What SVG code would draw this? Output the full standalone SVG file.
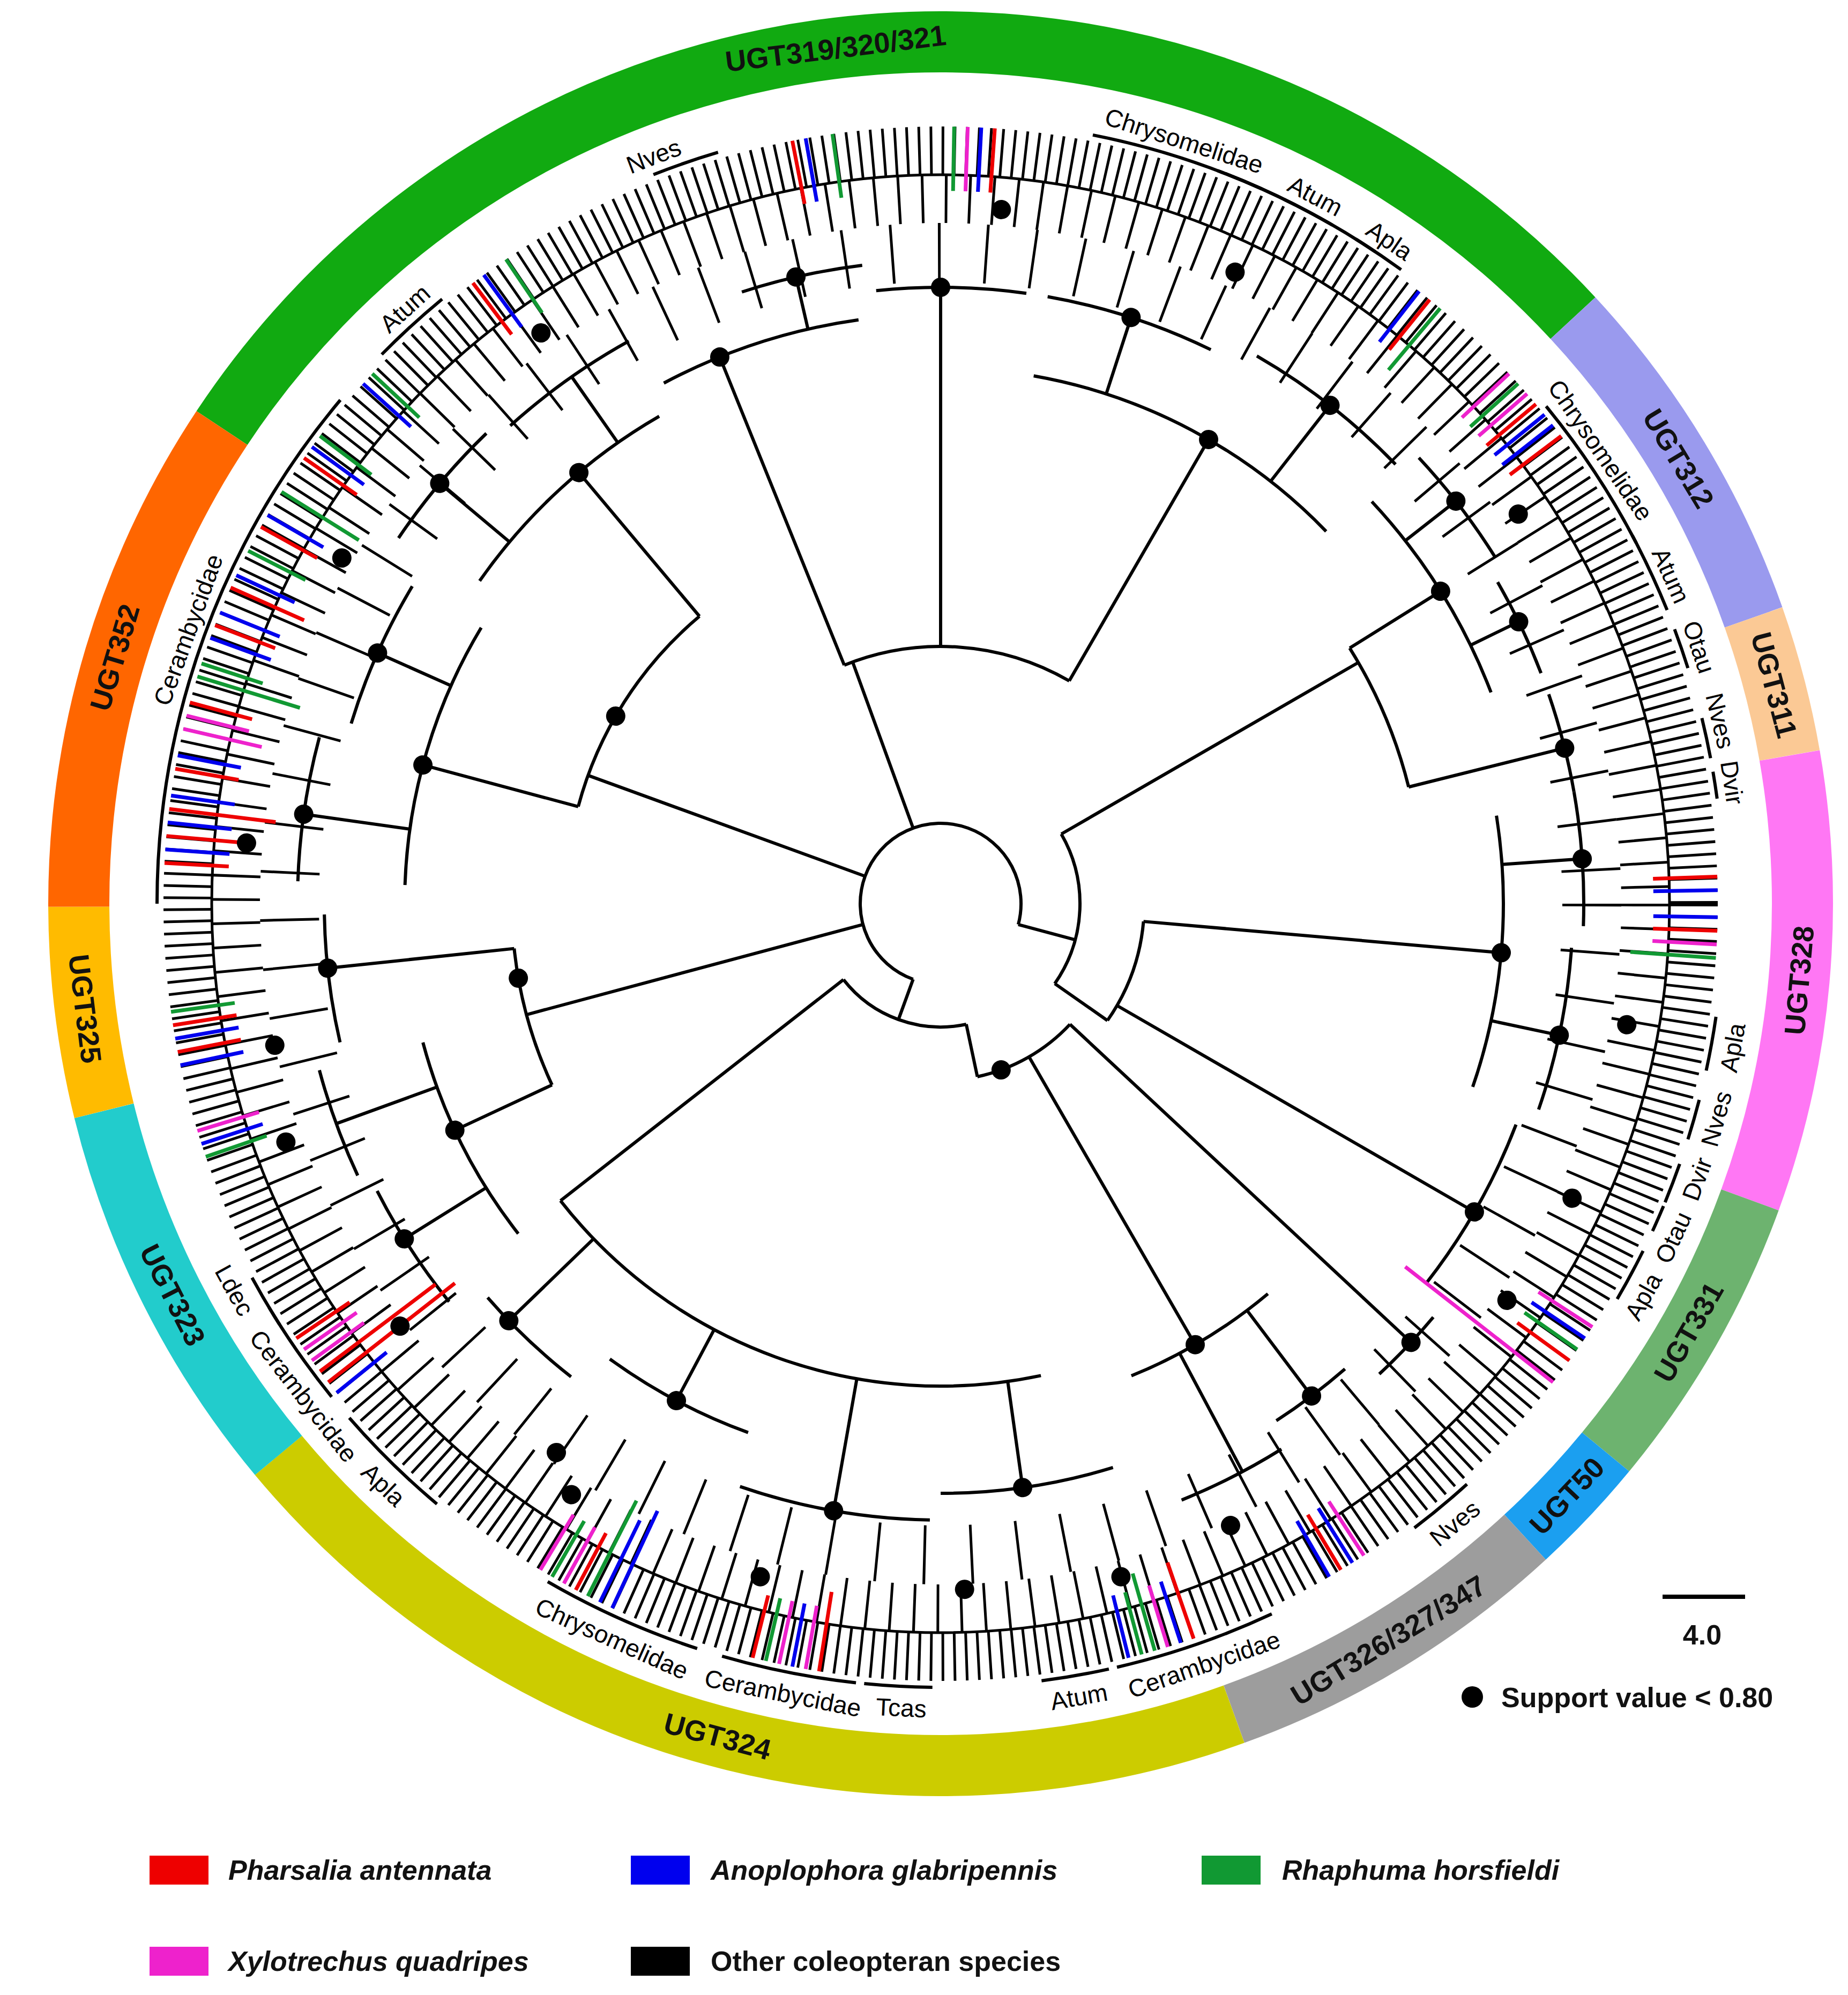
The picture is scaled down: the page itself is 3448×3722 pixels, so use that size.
<svg xmlns="http://www.w3.org/2000/svg" width="3448" height="3722" viewBox="0 0 3448 3722">
<style>
.b{fill:none;stroke:#000;stroke-width:6}
.rg{fill:none;stroke-width:114}
.lf{fill:none;stroke-width:7}
.R{stroke:#ee0000}.B{stroke:#0000ee}.G{stroke:#119933}.M{stroke:#ee22cc}
.lab{font-family:"Liberation Sans",Arial,sans-serif;font-size:46px;text-anchor:middle;fill:#000}
.rl{font-family:"Liberation Sans",Arial,sans-serif;font-size:54px;font-weight:bold;text-anchor:middle;fill:#111}
.lg{font-family:"Liberation Sans",Arial,sans-serif;font-size:52px;font-weight:bold;font-style:italic;fill:#111}
.lgn{font-family:"Liberation Sans",Arial,sans-serif;font-size:52px;font-weight:bold;fill:#111}
</style>
<rect width="3448" height="3722" fill="#fff"/>
<g id="ring" transform="translate(1755,1686)">
<circle class="rg" r="1608" pathLength="360" stroke="#11aa11" stroke-dasharray="103.7 400" transform="rotate(213.5)"/>
<circle class="rg" r="1608" pathLength="360" stroke="#9a9aee" stroke-dasharray="23.4 400" transform="rotate(-42.8)"/>
<circle class="rg" r="1608" pathLength="360" stroke="#fbc995" stroke-dasharray="9.5 400" transform="rotate(-19.4)"/>
<circle class="rg" r="1608" pathLength="360" stroke="#ff77f4" stroke-dasharray="30 400" transform="rotate(-9.9)"/>
<circle class="rg" r="1608" pathLength="360" stroke="#6db36f" stroke-dasharray="19.4 400" transform="rotate(20.1)"/>
<circle class="rg" r="1608" pathLength="360" stroke="#1b9ff0" stroke-dasharray="7.8 400" transform="rotate(39.5)"/>
<circle class="rg" r="1608" pathLength="360" stroke="#9d9d9d" stroke-dasharray="22.8 400" transform="rotate(47.3)"/>
<circle class="rg" r="1608" pathLength="360" stroke="#cccc00" stroke-dasharray="70.1 400" transform="rotate(70.1)"/>
<circle class="rg" r="1608" pathLength="360" stroke="#22cccc" stroke-dasharray="25.9 400" transform="rotate(140.2)"/>
<circle class="rg" r="1608" pathLength="360" stroke="#ffbb00" stroke-dasharray="13.7 400" transform="rotate(166.1)"/>
<circle class="rg" r="1608" pathLength="360" stroke="#ff6600" stroke-dasharray="33.7 400" transform="rotate(179.8)"/>
<text class="rl" transform="rotate(353)" y="-1589">UGT319/320/321</text>
<text class="rl" transform="rotate(58.9)" y="-1589">UGT312</text>
<text class="rl" transform="rotate(75.3)" y="-1589">UGT311</text>
<text class="rl" transform="rotate(-84.9)" y="1627">UGT328</text>
<text class="rl" transform="rotate(-60.2)" y="1627">UGT331</text>
<text class="rl" transform="rotate(-46.6)" y="1627">UGT50</text>
<text class="rl" transform="rotate(-31.3)" y="1627">UGT326/327/347</text>
<text class="rl" transform="rotate(15)" y="1627">UGT324</text>
<text class="rl" transform="rotate(63)" y="1627">UGT323</text>
<text class="rl" transform="rotate(83)" y="1627">UGT325</text>
<text class="rl" transform="rotate(286.6)" y="-1589">UGT352</text>
</g>
<g id="connectors" class="b" transform="translate(1755,1686)">
<circle r="1405" stroke-width="90" stroke-dasharray="5 17"/>
<circle r="1315" stroke-width="90" stroke-dasharray="5 39"/>
<circle r="1215" stroke-width="110" stroke-dasharray="5 83"/>
<circle r="1360" stroke-width="5"/>
<circle r="150" pathLength="360" stroke-dasharray="265 400" transform="rotate(110)"/>
<path d="M0-150V-230" transform="rotate(200)"/>
<circle r="230" pathLength="360" stroke-dasharray="64 400" transform="rotate(78)"/>
<path d="M0-230V-900" transform="rotate(232)"/>
<circle r="900" pathLength="360" stroke-dasharray="64 400" transform="rotate(78)"/>
<path d="M0-900V-1100" transform="rotate(172)"/>
<path d="M0-900V-1150" transform="rotate(190)"/>
<path d="M0-900V-1050" transform="rotate(208)"/>
<path d="M0-900V-1120" transform="rotate(226)"/>
<circle r="1100" pathLength="360" stroke-dasharray="17 400" transform="rotate(73)"/>
<circle r="1150" pathLength="360" stroke-dasharray="18 400" transform="rotate(91)"/>
<circle r="1050" pathLength="360" stroke-dasharray="16 400" transform="rotate(110)"/>
<circle r="1120" pathLength="360" stroke-dasharray="11 400" transform="rotate(128)"/>
<path d="M0-230V-330" transform="rotate(168)"/>
<circle r="330" pathLength="360" stroke-dasharray="35 400" transform="rotate(43)"/>
<path d="M0-330V-1200" transform="rotate(133)"/>
<circle r="1200" pathLength="360" stroke-dasharray="7 400" transform="rotate(40)"/>
<path d="M0-330V-950" transform="rotate(150)"/>
<circle r="950" pathLength="360" stroke-dasharray="18 400" transform="rotate(50)"/>
<path d="M0-950V-1150" transform="rotate(143)"/>
<path d="M0-950V-1200" transform="rotate(152)"/>
<circle r="1150" pathLength="360" stroke-dasharray="8 400" transform="rotate(49)"/>
<circle r="1200" pathLength="360" stroke-dasharray="10 400" transform="rotate(58)"/>
<path d="M0-150V-800" transform="rotate(255)"/>
<circle r="800" pathLength="360" stroke-dasharray="19 400" transform="rotate(155)"/>
<path d="M0-800V-1000" transform="rotate(245)"/>
<circle r="1000" pathLength="360" stroke-dasharray="23 400" transform="rotate(142)"/>
<path d="M0-1000V-1180" transform="rotate(238)"/>
<path d="M0-1000V-1200" transform="rotate(250)"/>
<circle r="1180" pathLength="360" stroke-dasharray="12 400" transform="rotate(141)"/>
<circle r="1200" pathLength="360" stroke-dasharray="10 400" transform="rotate(155)"/>
<path d="M0-800V-1150" transform="rotate(264)"/>
<circle r="1150" pathLength="360" stroke-dasharray="12 400" transform="rotate(167)"/>
<path d="M0-150V-700" transform="rotate(290)"/>
<circle r="700" pathLength="360" stroke-dasharray="35 400" transform="rotate(195)"/>
<path d="M0-700V-1000" transform="rotate(285)"/>
<circle r="1000" pathLength="360" stroke-dasharray="29 400" transform="rotate(182)"/>
<path d="M0-1000V-1200" transform="rotate(278)"/>
<path d="M0-1000V-1150" transform="rotate(294)"/>
<circle r="1200" pathLength="360" stroke-dasharray="13 400" transform="rotate(182)"/>
<circle r="1150" pathLength="360" stroke-dasharray="14 400" transform="rotate(197)"/>
<path d="M0-700V-1050" transform="rotate(320)"/>
<circle r="1050" pathLength="360" stroke-dasharray="25 400" transform="rotate(215)"/>
<path d="M0-1050V-1220" transform="rotate(310)"/>
<path d="M0-1050V-1200" transform="rotate(325)"/>
<circle r="1220" pathLength="360" stroke-dasharray="12 400" transform="rotate(214)"/>
<circle r="1200" pathLength="360" stroke-dasharray="13 400" transform="rotate(228)"/>
<path d="M0-150V-480" transform="rotate(340)"/>
<circle r="480" pathLength="360" stroke-dasharray="52 400" transform="rotate(248)"/>
<path d="M0-480V-1100" transform="rotate(338)"/>
<circle r="1100" pathLength="360" stroke-dasharray="20 400" transform="rotate(242)"/>
<path d="M0-1100V-1200" transform="rotate(347)"/>
<circle r="1200" pathLength="360" stroke-dasharray="11 400" transform="rotate(252)"/>
<path d="M0-480V-1150" transform="rotate(0)"/>
<circle r="1150" pathLength="360" stroke-dasharray="14 400" transform="rotate(264)"/>
<path d="M0-480V-1000" transform="rotate(30)"/>
<circle r="1000" pathLength="360" stroke-dasharray="36 400" transform="rotate(280)"/>
<path d="M0-1000V-1150" transform="rotate(18)"/>
<path d="M0-1000V-1180" transform="rotate(38)"/>
<circle r="1150" pathLength="360" stroke-dasharray="16 400" transform="rotate(280)"/>
<circle r="1180" pathLength="360" stroke-dasharray="16 400" transform="rotate(300)"/>
<path d="M0-150V-260" transform="rotate(105)"/>
<circle r="260" pathLength="360" stroke-dasharray="65 400" transform="rotate(-30)"/>
<path d="M0-260V-380" transform="rotate(125)"/>
<circle r="380" pathLength="360" stroke-dasharray="30 400" transform="rotate(5)"/>
<path d="M0-380V-1050" transform="rotate(95)"/>
<circle r="1050" pathLength="360" stroke-dasharray="28 400" transform="rotate(-9)"/>
<path d="M0-1050V-1200" transform="rotate(86)"/>
<path d="M0-1050V-1180" transform="rotate(102)"/>
<circle r="1200" pathLength="360" stroke-dasharray="12 400" transform="rotate(-10)"/>
<circle r="1180" pathLength="360" stroke-dasharray="15 400" transform="rotate(4)"/>
<path d="M0-380V-1150" transform="rotate(120)"/>
<circle r="1150" pathLength="360" stroke-dasharray="17 400" transform="rotate(21)"/>
<path d="M0-260V-900" transform="rotate(60)"/>
<circle r="900" pathLength="360" stroke-dasharray="18 400" transform="rotate(-32)"/>
<path d="M0-900V-1100" transform="rotate(58)"/>
<circle r="1100" pathLength="360" stroke-dasharray="22 400" transform="rotate(-43)"/>
<path d="M0-1100V-1220" transform="rotate(52)"/>
<path d="M0-1100V-1200" transform="rotate(64)"/>
<circle r="1220" pathLength="360" stroke-dasharray="11 400" transform="rotate(-43)"/>
<circle r="1200" pathLength="360" stroke-dasharray="9 400" transform="rotate(-30)"/>
<path d="M0-900V-1200" transform="rotate(76)"/>
<circle r="1200" pathLength="360" stroke-dasharray="9 400" transform="rotate(-19)"/>
</g>
<g id="colored-leaves" class="lf" transform="translate(1755,1686)">
<path class="R" d="M0-1330V-1450" transform="rotate(273)"/><path class="B" d="M0-1330V-1450" transform="rotate(274)"/>
<path class="R" d="M0-1300V-1450" transform="rotate(275)"/><path class="B" d="M0-1330V-1450" transform="rotate(276)"/>
<path class="R" d="M0-1250V-1450" transform="rotate(277)"/><path class="B" d="M0-1330V-1450" transform="rotate(278)"/>
<path class="R" d="M0-1330V-1450" transform="rotate(280)"/><path class="B" d="M0-1330V-1450" transform="rotate(281)"/>
<path class="M" d="M0-1300V-1450" transform="rotate(283)"/><path class="M" d="M0-1330V-1450" transform="rotate(284)"/>
<path class="R" d="M0-1330V-1450" transform="rotate(285)"/><path class="G" d="M0-1250V-1450" transform="rotate(287)"/>
<path class="G" d="M0-1330V-1450" transform="rotate(288)"/><path class="B" d="M0-1330V-1450" transform="rotate(290)"/>
<path class="R" d="M0-1330V-1450" transform="rotate(291)"/><path class="B" d="M0-1330V-1450" transform="rotate(292)"/>
<path class="R" d="M0-1300V-1450" transform="rotate(294)"/><path class="B" d="M0-1330V-1450" transform="rotate(295)"/>
<path class="G" d="M0-1330V-1450" transform="rotate(297)"/><path class="R" d="M0-1330V-1450" transform="rotate(299)"/>
<path class="B" d="M0-1330V-1450" transform="rotate(300)"/><path class="G" d="M0-1280V-1450" transform="rotate(302)"/>
<path class="R" d="M0-1330V-1450" transform="rotate(305)"/><path class="B" d="M0-1330V-1450" transform="rotate(306)"/>
<path class="G" d="M0-1330V-1450" transform="rotate(307)"/><path class="B" d="M0-1330V-1450" transform="rotate(312)"/>
<path class="G" d="M0-1330V-1450" transform="rotate(313)"/><path class="R" d="M0-1330V-1450" transform="rotate(323)"/>
<path class="B" d="M0-1330V-1450" transform="rotate(324)"/><path class="G" d="M0-1330V-1450" transform="rotate(326)"/>
<path class="R" d="M0-1330V-1450" transform="rotate(349)"/><path class="B" d="M0-1330V-1450" transform="rotate(350)"/>
<path class="G" d="M0-1330V-1450" transform="rotate(352)"/><path class="G" d="M0-1330V-1450" transform="rotate(1)"/>
<path class="M" d="M0-1330V-1450" transform="rotate(2)"/><path class="B" d="M0-1330V-1450" transform="rotate(3)"/>
<path class="R" d="M0-1330V-1450" transform="rotate(4)"/><path class="B" d="M0-1330V-1450" transform="rotate(38)"/>
<path class="R" d="M0-1330V-1450" transform="rotate(39)"/><path class="G" d="M0-1300V-1450" transform="rotate(40)"/>
<path class="M" d="M0-1330V-1450" transform="rotate(47)"/><path class="G" d="M0-1330V-1450" transform="rotate(48)"/>
<path class="M" d="M0-1330V-1450" transform="rotate(49)"/><path class="R" d="M0-1330V-1450" transform="rotate(50)"/>
<path class="B" d="M0-1330V-1450" transform="rotate(51)"/><path class="B" d="M0-1330V-1450" transform="rotate(52)"/>
<path class="R" d="M0-1330V-1450" transform="rotate(53)"/><path class="R" d="M0-1330V-1450" transform="rotate(88)"/>
<path class="B" d="M0-1330V-1450" transform="rotate(89)"/><path class="B" d="M0-1330V-1450" transform="rotate(91)"/>
<path class="R" d="M0-1330V-1450" transform="rotate(92)"/><path class="M" d="M0-1330V-1450" transform="rotate(93)"/>
<path class="G" d="M0-1290V-1450" transform="rotate(94)"/><path class="M" d="M0-1330V-1450" transform="rotate(123)"/>
<path class="B" d="M0-1330V-1450" transform="rotate(124)"/><path class="G" d="M0-1330V-1450" transform="rotate(125)"/>
<path class="R" d="M0-1330V-1450" transform="rotate(126)"/><path class="M" d="M0-1100V-1450" transform="rotate(128)"/>
<path class="M" d="M0-1330V-1450" transform="rotate(147)"/><path class="B" d="M0-1330V-1450" transform="rotate(148)"/>
<path class="R" d="M0-1330V-1450" transform="rotate(149)"/><path class="B" d="M0-1330V-1450" transform="rotate(150)"/>
<path class="R" d="M0-1300V-1450" transform="rotate(161)"/><path class="B" d="M0-1330V-1450" transform="rotate(162)"/>
<path class="M" d="M0-1330V-1450" transform="rotate(163)"/><path class="G" d="M0-1300V-1450" transform="rotate(164)"/>
<path class="G" d="M0-1330V-1450" transform="rotate(165)"/><path class="B" d="M0-1330V-1450" transform="rotate(166)"/>
<path class="R" d="M0-1300V-1450" transform="rotate(189)"/><path class="M" d="M0-1330V-1450" transform="rotate(190)"/>
<path class="B" d="M0-1330V-1450" transform="rotate(191)"/><path class="M" d="M0-1330V-1450" transform="rotate(192)"/>
<path class="G" d="M0-1330V-1450" transform="rotate(193)"/><path class="R" d="M0-1330V-1450" transform="rotate(194)"/>
<path class="B" d="M0-1250V-1450" transform="rotate(205)"/><path class="B" d="M0-1280V-1450" transform="rotate(206)"/>
<path class="G" d="M0-1250V-1450" transform="rotate(207)"/><path class="R" d="M0-1330V-1450" transform="rotate(208)"/>
<path class="M" d="M0-1330V-1450" transform="rotate(209)"/><path class="G" d="M0-1330V-1450" transform="rotate(210)"/>
<path class="M" d="M0-1330V-1450" transform="rotate(211)"/><path class="B" d="M0-1330V-1450" transform="rotate(231)"/>
<path class="R" d="M0-1150V-1450" transform="rotate(232)"/><path class="R" d="M0-1180V-1450" transform="rotate(233)"/>
<path class="M" d="M0-1330V-1450" transform="rotate(234)"/><path class="M" d="M0-1330V-1450" transform="rotate(235)"/>
<path class="R" d="M0-1330V-1450" transform="rotate(236)"/><path class="G" d="M0-1330V-1450" transform="rotate(251)"/>
<path class="B" d="M0-1330V-1450" transform="rotate(252)"/><path class="M" d="M0-1330V-1450" transform="rotate(253)"/>
<path class="B" d="M0-1330V-1450" transform="rotate(258)"/><path class="R" d="M0-1330V-1450" transform="rotate(259)"/>
<path class="B" d="M0-1330V-1450" transform="rotate(260)"/><path class="R" d="M0-1330V-1450" transform="rotate(261)"/>
<path class="G" d="M0-1330V-1450" transform="rotate(262)"/>
</g>
<g id="support-dots" fill="#000" transform="translate(1755,1686)">
<circle r="18" cy="-1000" transform="rotate(285)"/><circle r="18" cy="-1200" transform="rotate(278)"/>
<circle r="18" cy="-1150" transform="rotate(294)"/><circle r="18" cy="-1290" transform="rotate(300)"/>
<circle r="18" cy="-1300" transform="rotate(275)"/><circle r="18" cy="-1150" transform="rotate(264)"/>
<circle r="18" cy="-1270" transform="rotate(258)"/><circle r="18" cy="-1000" transform="rotate(245)"/>
<circle r="18" cy="-1180" transform="rotate(238)"/><circle r="18" cy="-1300" transform="rotate(250)"/>
<circle r="18" cy="-1280" transform="rotate(232)"/><circle r="18" cy="-1120" transform="rotate(226)"/>
<circle r="18" cy="-1050" transform="rotate(208)"/><circle r="18" cy="-1250" transform="rotate(215)"/>
<circle r="18" cy="-1150" transform="rotate(190)"/><circle r="18" cy="-1300" transform="rotate(195)"/>
<circle r="18" cy="-1100" transform="rotate(172)"/><circle r="18" cy="-1280" transform="rotate(178)"/>
<circle r="18" cy="-1300" transform="rotate(165)"/><circle r="18" cy="-950" transform="rotate(150)"/>
<circle r="18" cy="-1150" transform="rotate(143)"/><circle r="18" cy="-1280" transform="rotate(155)"/>
<circle r="18" cy="-1200" transform="rotate(133)"/><circle r="18" cy="-1150" transform="rotate(120)"/>
<circle r="18" cy="-1290" transform="rotate(125)"/><circle r="18" cy="-1300" transform="rotate(115)"/>
<circle r="18" cy="-1180" transform="rotate(102)"/><circle r="18" cy="-1050" transform="rotate(95)"/>
<circle r="18" cy="-1200" transform="rotate(86)"/><circle r="18" cy="-1300" transform="rotate(100)"/>
<circle r="18" cy="-1200" transform="rotate(76)"/><circle r="18" cy="-1200" transform="rotate(64)"/>
<circle r="18" cy="-1100" transform="rotate(58)"/><circle r="18" cy="-1220" transform="rotate(52)"/>
<circle r="18" cy="-1300" transform="rotate(56)"/><circle r="18" cy="-1180" transform="rotate(38)"/>
<circle r="18" cy="-1000" transform="rotate(30)"/><circle r="18" cy="-1150" transform="rotate(18)"/>
<circle r="18" cy="-1300" transform="rotate(25)"/><circle r="18" cy="-1300" transform="rotate(5)"/>
<circle r="18" cy="-1150" transform="rotate(0)"/><circle r="18" cy="-1200" transform="rotate(347)"/>
<circle r="18" cy="-1100" transform="rotate(338)"/><circle r="18" cy="-1050" transform="rotate(320)"/>
<circle r="18" cy="-1220" transform="rotate(310)"/><circle r="18" cy="-1300" transform="rotate(325)"/>
<circle r="18" cy="-700" transform="rotate(300)"/><circle r="18" cy="-800" transform="rotate(260)"/>
<circle r="18" cy="-330" transform="rotate(160)"/><circle r="18" cy="-1300" transform="rotate(212)"/>
</g>
<g id="clade-labels" transform="translate(1755,1686)">
<g class="b">
<circle r="1462" pathLength="360" stroke-dasharray="5 400" transform="rotate(248.5)"/>
<circle r="1462" pathLength="360" stroke-dasharray="6 400" transform="rotate(224.5)"/>
<circle r="1462" pathLength="360" stroke-dasharray="40 400" transform="rotate(180)"/>
<circle r="1462" pathLength="360" stroke-dasharray="13 400" transform="rotate(290.7)"/>
<circle r="1462" pathLength="360" stroke-dasharray="6 400" transform="rotate(290.9)"/>
<circle r="1462" pathLength="360" stroke-dasharray="13 400" transform="rotate(-78.8)"/>
<circle r="1462" pathLength="360" stroke-dasharray="4 400" transform="rotate(-64)"/>
<circle r="1462" pathLength="360" stroke-dasharray="4 400" transform="rotate(-58)"/>
<circle r="1462" pathLength="360" stroke-dasharray="12 400" transform="rotate(-39.4)"/>
<circle r="1462" pathLength="360" stroke-dasharray="6 400" transform="rotate(-28)"/>
<circle r="1462" pathLength="360" stroke-dasharray="3 400" transform="rotate(-20.5)"/>
<circle r="1462" pathLength="360" stroke-dasharray="3 400" transform="rotate(-13.7)"/>
<circle r="1462" pathLength="360" stroke-dasharray="2 400" transform="rotate(-9.7)"/>
<circle r="1462" pathLength="360" stroke-dasharray="4 400" transform="rotate(8.3)"/>
<circle r="1462" pathLength="360" stroke-dasharray="3 400" transform="rotate(14.5)"/>
<circle r="1462" pathLength="360" stroke-dasharray="3 400" transform="rotate(19.4)"/>
<circle r="1462" pathLength="360" stroke-dasharray="2 400" transform="rotate(22.7)"/>
<circle r="1462" pathLength="360" stroke-dasharray="4 400" transform="rotate(26.3)"/>
<circle r="1462" pathLength="360" stroke-dasharray="5 400" transform="rotate(47.8)"/>
<circle r="1462" pathLength="360" stroke-dasharray="12 400" transform="rotate(65)"/>
<circle r="1462" pathLength="360" stroke-dasharray="5 400" transform="rotate(77.6)"/>
<circle r="1462" pathLength="360" stroke-dasharray="5 400" transform="rotate(90.6)"/>
<circle r="1462" pathLength="360" stroke-dasharray="10 400" transform="rotate(96.2)"/>
<circle r="1462" pathLength="360" stroke-dasharray="12 400" transform="rotate(108.1)"/>
<circle r="1462" pathLength="360" stroke-dasharray="9 400" transform="rotate(130)"/>
<circle r="1462" pathLength="360" stroke-dasharray="8 400" transform="rotate(141)"/>
<circle r="1462" pathLength="360" stroke-dasharray="4 400" transform="rotate(147.5)"/>
</g>
<text class="lab" transform="rotate(339)" y="-1478">Nves</text>
<text class="lab" transform="rotate(318)" y="-1478">Atum</text>
<text class="lab" transform="rotate(290)" y="-1478">Cerambycidae</text>
<text class="lab" transform="rotate(17.7)" y="-1478">Chrysomelidae</text>
<text class="lab" transform="rotate(27.9)" y="-1478">Atum</text>
<text class="lab" transform="rotate(34.1)" y="-1478">Apla</text>
<text class="lab" transform="rotate(55.5)" y="-1478">Chrysomelidae</text>
<text class="lab" transform="rotate(65.8)" y="-1478">Atum</text>
<text class="lab" transform="rotate(71.3)" y="-1478">Otau</text>
<text class="lab" transform="rotate(76.8)" y="-1478">Nves</text>
<text class="lab" transform="rotate(81.3)" y="-1478">Dvir</text>
<text class="lab" transform="rotate(-79.7)" y="1518">Apla</text>
<text class="lab" transform="rotate(-74.5)" y="1518">Nves</text>
<text class="lab" transform="rotate(-70)" y="1518">Dvir</text>
<text class="lab" transform="rotate(-65.5)" y="1518">Otau</text>
<text class="lab" transform="rotate(-60.8)" y="1518">Apla</text>
<text class="lab" transform="rotate(-39.7)" y="1518">Nves</text>
<text class="lab" transform="rotate(-19.1)" y="1518">Cerambycidae</text>
<text class="lab" transform="rotate(-9.9)" y="1518">Atum</text>
<text class="lab" transform="rotate(2.8)" y="1518">Tcas</text>
<text class="lab" transform="rotate(11.3)" y="1518">Cerambycidae</text>
<text class="lab" transform="rotate(24.1)" y="1518">Chrysomelidae</text>
<text class="lab" transform="rotate(43.8)" y="1518">Apla</text>
<text class="lab" transform="rotate(52.3)" y="1518">Cerambycidae</text>
<text class="lab" transform="rotate(61.3)" y="1518">Ldec</text>
</g>
<g id="scale">
<line x1="3102" y1="2979" x2="3256" y2="2979" stroke="#000" stroke-width="8"/>
<text class="lgn" x="3176" y="3068" text-anchor="middle">4.0</text>
<circle cx="2747" cy="3166" r="20" fill="#000"/>
<text class="lgn" x="2801" y="3185">Support value &lt; 0.80</text>
</g>
<g id="legend">
<rect x="279" y="3462" width="110" height="54" fill="#ee0000"/>
<text class="lg" x="426" y="3507">Pharsalia antennata</text>
<rect x="1177" y="3462" width="110" height="54" fill="#0000ee"/>
<text class="lg" x="1326" y="3507">Anoplophora glabripennis</text>
<rect x="2242" y="3462" width="110" height="54" fill="#119933"/>
<text class="lg" x="2392" y="3507">Rhaphuma horsfieldi</text>
<rect x="279" y="3632" width="110" height="54" fill="#ee22cc"/>
<text class="lg" x="426" y="3677">Xylotrechus quadripes</text>
<rect x="1177" y="3632" width="110" height="54" fill="#000"/>
<text class="lgn" x="1326" y="3677">Other coleopteran species</text>
</g>
</svg>
